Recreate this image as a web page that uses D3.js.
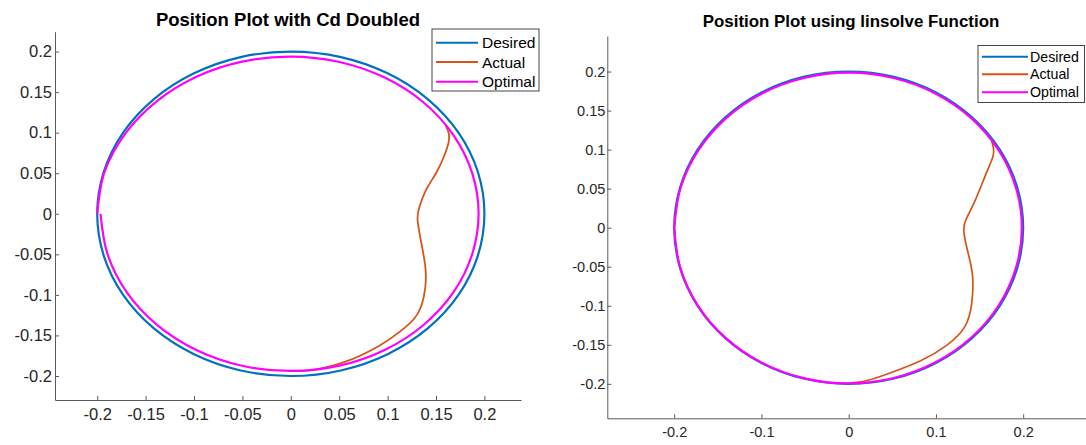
<!DOCTYPE html>
<html>
<head>
<meta charset="utf-8">
<script src="https://cdn.jsdelivr.net/npm/d3@7"></script>
<style>
  html, body { margin: 0; padding: 0; background: #fff; }
  svg { display: block; font-family: "Liberation Sans", Arial, Helvetica, sans-serif; }
</style>
</head>
<body>
<svg id="chart" width="1086" height="445"></svg>
<script>
// ---- Series: desired circle (r = 0.2), sampled every 15 degrees ----
const desiredX = [0.2, 0.1932, 0.1732, 0.1414, 0.1, 0.0518, 0, -0.0518, -0.1, -0.1414, -0.1732, -0.1932,
                  -0.2, -0.1932, -0.1732, -0.1414, -0.1, -0.0518, 0, 0.0518, 0.1, 0.1414, 0.1732, 0.1932];
const desiredY = [0, 0.0518, 0.1, 0.1414, 0.1732, 0.1932, 0.2, 0.1932, 0.1732, 0.1414, 0.1, 0.0518,
                  0, -0.0518, -0.1, -0.1414, -0.1732, -0.1932, -0.2, -0.1932, -0.1732, -0.1414, -0.1, -0.0518];

// ---- Left panel: Cd doubled ----
const cdOptimalX = [-0.1966, -0.1891, -0.1690, -0.1376, -0.0971, -0.0502, 0, 0.0502, 0.0970, 0.1371, 0.1679, 0.1873,
                    0.1940, 0.1874, 0.1680, 0.1372, 0.0970, 0.0502, 0, -0.0503, -0.0975, -0.1386, -0.1710, -0.1924, -0.2];
const cdOptimalY = [0, -0.0507, -0.0976, -0.1376, -0.1682, -0.1874, -0.1938, -0.1873, -0.1679, -0.1371, -0.0970, -0.0502,
                    0, 0.0502, 0.0970, 0.1372, 0.1679, 0.1872, 0.1938, 0.1876, 0.1689, 0.1386, 0.0988, 0.0516, 0];
const cdActualX = [0.000, 0.020, 0.055, 0.091, 0.113, 0.127, 0.135, 0.139, 0.139, 0.135, 0.131, 0.133,
                   0.140, 0.150, 0.158, 0.163, 0.163, 0.160];
const cdActualY = [-0.1938, -0.193, -0.183, -0.163, -0.145, -0.130, -0.113, -0.090, -0.066, -0.037, -0.008, 0.009,
                   0.030, 0.050, 0.070, 0.088, 0.100, 0.109];

// ---- Right panel: linsolve ----
const lsOptimalX = [-0.2, -0.1930, -0.1729, -0.1411, -0.0998, -0.0516, 0, 0.0516, 0.0995, 0.1406, 0.1720, 0.1917,
                    0.1985, 0.1917, 0.1719, 0.1404, 0.0993, 0.0514, 0, -0.0514, -0.0993, -0.1404, -0.1722, -0.1926, -0.2];
const lsOptimalY = [0, -0.0517, -0.0998, -0.1411, -0.1728, -0.1927, -0.1995, -0.1925, -0.1723, -0.1406, -0.0993, -0.0514,
                    0, 0.0514, 0.0993, 0.1404, 0.1719, 0.1917, 0.1985, 0.1917, 0.1719, 0.1404, 0.0994, 0.0516, 0];
const lsActualX = [0.000, 0.020, 0.045, 0.083, 0.113, 0.133, 0.141, 0.142, 0.137, 0.132, 0.135, 0.145,
                   0.157, 0.165, 0.166, 0.164];
const lsActualY = [-0.199, -0.196, -0.187, -0.170, -0.150, -0.127, -0.097, -0.062, -0.033, -0.005, 0.012, 0.035,
                   0.068, 0.090, 0.101, 0.111];

// ---- Ticks and labels ----
const cdTicks = [-0.2, -0.15, -0.1, -0.05, 0, 0.05, 0.1, 0.15, 0.2];
const cdTickLabels = ["-0.2", "-0.15", "-0.1", "-0.05", "0", "0.05", "0.1", "0.15", "0.2"];
const lsXTicks = [-0.2, -0.1, 0, 0.1, 0.2];
const lsXTickLabels = ["-0.2", "-0.1", "0", "0.1", "0.2"];
const lsYTicks = [-0.2, -0.15, -0.1, -0.05, 0, 0.05, 0.1, 0.15, 0.2];
const lsYTickLabels = ["-0.2", "-0.15", "-0.1", "-0.05", "0", "0.05", "0.1", "0.15", "0.2"];

const seriesNames = ["Desired", "Actual", "Optimal"];
const seriesColors = ["#0072BD", "#D95319", "#FF00FF"];

const svg = d3.select("#chart");
svg.append("rect").attr("width", 1086).attr("height", 445).attr("fill", "#fff");

const zip = (xs, ys) => xs.map((x, i) => [x, ys[i]]);

function drawPanel(p) {
  const x = d3.scaleLinear().domain(p.xDomain).range(p.xRange);
  const y = d3.scaleLinear().domain(p.yDomain).range(p.yRange);
  const g = svg.append("g");

  // axes (ticks pointing inward, no box)
  const xAxis = d3.axisBottom(x).tickValues(p.xTicks)
    .tickFormat((d, i) => p.xTickLabels[i]).tickSizeInner(-4).tickSizeOuter(0).tickPadding(p.xPad);
  const yAxis = d3.axisLeft(y).tickValues(p.yTicks)
    .tickFormat((d, i) => p.yTickLabels[i]).tickSizeInner(-4).tickSizeOuter(0).tickPadding(p.yPad);

  const gx = g.append("g").attr("transform", `translate(0,${p.yRange[0]})`).call(xAxis);
  const gy = g.append("g").attr("transform", `translate(${p.xRange[0]},0)`).call(yAxis);
  [gx, gy].forEach(a => {
    a.select(".domain").attr("stroke", "#5a5a5a").attr("stroke-width", 1);
    a.selectAll(".tick line").attr("stroke", "#5a5a5a");
    a.selectAll(".tick text").attr("fill", "#262626").attr("font-size", p.tickFont)
      .attr("font-family", "Liberation Sans, Arial, sans-serif");
  });

  // curves
  const closedLine = d3.line().x(d => x(d[0])).y(d => y(d[1])).curve(d3.curveCatmullRomClosed.alpha(0.5));
  const openLine = d3.line().x(d => x(d[0])).y(d => y(d[1])).curve(d3.curveCatmullRom.alpha(0.5));
  const smoothLine = d3.line().x(d => x(d[0])).y(d => y(d[1])).curve(d3.curveNatural);

  g.append("path").datum(zip(desiredX, desiredY)).attr("d", closedLine)
    .attr("fill", "none").attr("stroke", seriesColors[0]).attr("stroke-width", p.lw);
  g.append("path").datum(zip(p.actualX, p.actualY)).attr("d", smoothLine)
    .attr("fill", "none").attr("stroke", seriesColors[1]).attr("stroke-width", p.lwActual);
  g.append("path").datum(zip(p.optimalX, p.optimalY)).attr("d", openLine)
    .attr("fill", "none").attr("stroke", seriesColors[2]).attr("stroke-width", p.lw);

  // title
  g.append("text").attr("x", p.titleX).attr("y", p.titleY)
    .attr("text-anchor", "middle").attr("dominant-baseline", "central")
    .attr("font-weight", "bold").attr("font-size", p.titleFont).attr("fill", "#000")
    .text(p.title);

  // legend
  const L = p.legend;
  const lg = g.append("g");
  lg.append("rect").attr("x", L.x0).attr("y", L.y0).attr("width", L.x1 - L.x0).attr("height", L.y1 - L.y0)
    .attr("fill", "#fff").attr("stroke", "#444").attr("stroke-width", 1);
  seriesNames.forEach((name, i) => {
    const ry = L.rows[i];
    lg.append("line").attr("x1", L.lx0).attr("x2", L.lx1).attr("y1", ry).attr("y2", ry)
      .attr("stroke", seriesColors[i]).attr("stroke-width", 2);
    lg.append("text").attr("x", L.tx).attr("y", ry).attr("dominant-baseline", "central")
      .attr("font-size", L.font).attr("fill", "#000").text(name);
  });
}

drawPanel({
  xDomain: [-0.2436, 0.2378], xRange: [55, 521],
  yDomain: [-0.2296, 0.2245], yRange: [400, 31.7],
  xTicks: cdTicks, xTickLabels: cdTickLabels,
  yTicks: cdTicks, yTickLabels: cdTickLabels,
  xPad: 8, yPad: 3, tickFont: "16.5px",
  optimalX: cdOptimalX, optimalY: cdOptimalY,
  actualX: cdActualX, actualY: cdActualY,
  lw: 2.2, lwActual: 1.8,
  title: "Position Plot with Cd Doubled", titleX: 288, titleY: 19, titleFont: "18.5px",
  legend: { x0: 432, x1: 539, y0: 29, y1: 91, lx0: 436, lx1: 478, tx: 482,
            rows: [42.7, 62, 81.7], font: "15.5px" }
});

drawPanel({
  xDomain: [-0.2767, 0.272], xRange: [607.3, 1086],
  yDomain: [-0.2441, 0.2455], yRange: [418.3, 36],
  xTicks: lsXTicks, xTickLabels: lsXTickLabels,
  yTicks: lsYTicks, yTickLabels: lsYTickLabels,
  xPad: 8, yPad: 2, tickFont: "14.5px",
  optimalX: lsOptimalX, optimalY: lsOptimalY,
  actualX: lsActualX, actualY: lsActualY,
  lw: 2.2, lwActual: 1.7,
  title: "Position Plot using linsolve Function", titleX: 851, titleY: 21.7, titleFont: "16.9px",
  legend: { x0: 978, x1: 1084.5, y0: 45.5, y1: 102.5, lx0: 982, lx1: 1028, tx: 1030,
            rows: [56.7, 74.3, 92.3], font: "14.2px" }
});
</script>
</body>
</html>
